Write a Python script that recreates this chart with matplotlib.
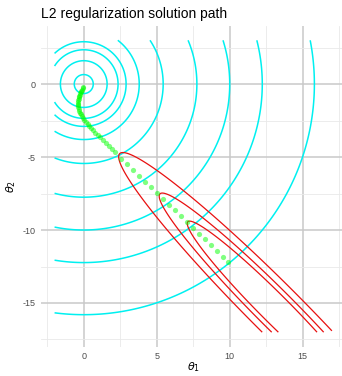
import matplotlib.pyplot as plt
import numpy as np

plt.rcParams["font.family"] = ["Liberation Sans", "DejaVu Sans"]
plt.rcParams["mathtext.fontset"] = "dejavusans"

title = "L2 regularization solution path"
x_ticks = [0, 5, 10, 15]
y_ticks = [-15, -10, -5, 0]
x_minor = [-2.5, 2.5, 7.5, 12.5, 17.5]
y_minor = [-17.5, -12.5, -7.5, -2.5, 2.5]

# extent of the grid the contours were evaluated on
theta1_range = (-2, 17)
theta2_range = (-17, 3)

# L2 penalty contours (radius of each circle)
penalty_radii = [0.65, 1.6, 2.35, 2.9, 3.8, 5.44, 7.75, 10.0, 12.23, 15.8]

# quadratic loss contours: center, major axis angle, minor/major ratio, half-lengths
loss_center = (13.07, -15.37)
loss_angle_deg = -45.0
loss_axis_ratio = 0.1167
loss_half_lengths = [8.4, 11.1, 15.0]

# ridge solution path
path_theta1 = [
    -0.04, -0.08, -0.12, -0.16, -0.20, -0.24, -0.28, -0.31, -0.34, -0.36,
    -0.38, -0.39, -0.40, -0.39, -0.37, -0.34, -0.30, -0.25, -0.19, -0.12,
    -0.04, 0.05, 0.15, 0.26, 0.38, 0.51, 0.65, 0.80, 0.96, 1.13, 1.31, 1.50,
    1.70, 1.92, 2.16,
    2.57, 2.98, 3.39, 3.80, 4.21, 4.62, 5.03, 5.44, 5.85, 6.26, 6.67, 7.08,
    7.49, 7.90, 8.31, 8.72, 9.13, 9.54, 9.90,
]
path_theta2 = [
    -0.22, -0.30, -0.38, -0.46, -0.55, -0.64, -0.73, -0.82, -0.92, -1.02,
    -1.12, -1.23, -1.34, -1.46, -1.58, -1.70, -1.82, -1.95, -2.08, -2.21,
    -2.34, -2.47, -2.60, -2.74, -2.88, -3.02, -3.17, -3.32, -3.48, -3.65,
    -3.83, -4.02, -4.22, -4.44, -4.68,
    -5.11, -5.50, -5.90, -6.29, -6.69, -7.08, -7.48, -7.87, -8.27, -8.66,
    -9.06, -9.45, -9.85, -10.24, -10.64, -11.03, -11.43, -11.82, -12.17,
]

fig = plt.figure(figsize=(3.42, 3.76), dpi=100)
ax = fig.add_axes([0.119, 0.0777, 0.892, 0.854])

t1 = np.linspace(*theta1_range, 500)
t2 = np.linspace(*theta2_range, 500)
T1, T2 = np.meshgrid(t1, t2)

# penalty surface
norm = np.sqrt(T1**2 + T2**2)
ax.contour(T1, T2, norm, levels=penalty_radii, colors="#00F0F0",
           linewidths=1.1, zorder=2)

# loss surface
ang = np.deg2rad(loss_angle_deg)
a = (T1 - loss_center[0]) * np.cos(ang) + (T2 - loss_center[1]) * np.sin(ang)
b = -(T1 - loss_center[0]) * np.sin(ang) + (T2 - loss_center[1]) * np.cos(ang)
loss = np.sqrt(a**2 + (b / loss_axis_ratio) ** 2)
ax.contour(T1, T2, loss, levels=loss_half_lengths, colors="#E81010",
           linewidths=0.9, zorder=3)

ax.scatter(path_theta1, path_theta2, s=14, color="#00FF00", alpha=0.5,
           linewidths=0, zorder=4)

ax.set_xlim(-2.95, 17.95)
ax.set_ylim(-18, 4)

ax.set_xticks(x_ticks)
ax.set_yticks(y_ticks)
ax.set_xticks(x_minor, minor=True)
ax.set_yticks(y_minor, minor=True)
ax.set_xticklabels([str(v) for v in x_ticks])
ax.set_yticklabels([str(v) for v in y_ticks])
ax.grid(which="major", color="#C9C9C9", linewidth=1.1, zorder=0)
ax.grid(which="minor", color="#E9E9E9", linewidth=0.6, zorder=0)
ax.set_axisbelow(True)
ax.tick_params(which="both", length=0, labelsize=6.5, labelcolor="#4D4D4D")
ax.tick_params(axis="x", pad=4)
ax.tick_params(axis="y", pad=4)
for s in ax.spines.values():
    s.set_visible(False)

ax.set_xlabel(r"$\theta_1$", fontsize=8, labelpad=-1)
ax.set_ylabel(r"$\theta_2$", fontsize=8, labelpad=3)

fig.text(40.7 / 342, 1 - 18 / 376, title, fontsize=10, va="baseline", ha="left")

fig.savefig("out.png", dpi=100)
